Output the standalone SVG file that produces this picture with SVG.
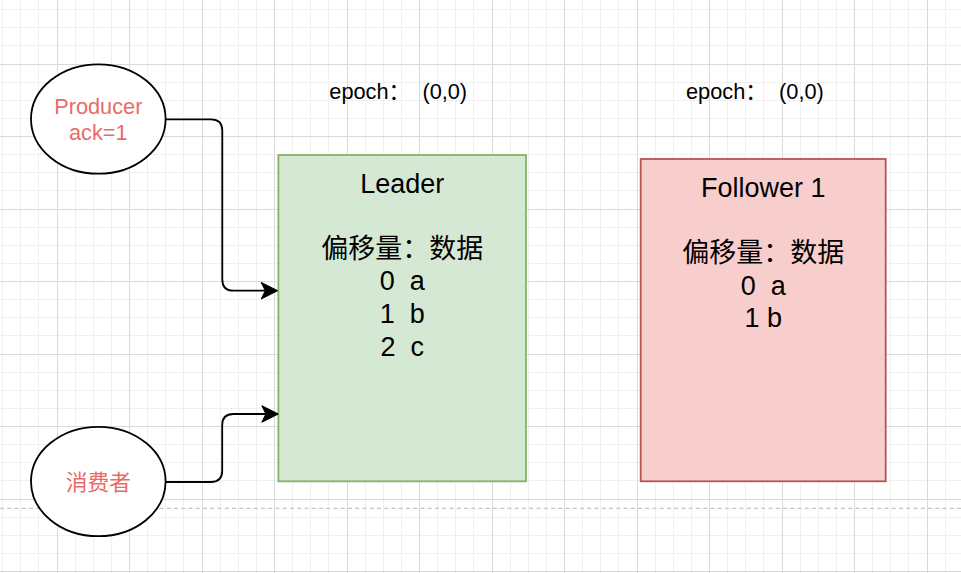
<svg xmlns="http://www.w3.org/2000/svg" width="961" height="573" viewBox="0 0 961 573">
  <style>
    .minor { stroke: #f0f0f0; stroke-width: 1; fill: none; }
    .major { stroke: #dadada; stroke-width: 1; fill: none; }
    .divider { stroke: #c4c4c4; stroke-width: 1.3; stroke-dasharray: 4 3.25; fill: none; }
    .ell { fill: #ffffff; stroke: #000000; stroke-width: 1.8; }
    .edge { fill: none; stroke: #000000; stroke-width: 1.8; }
    .t { font-family: "Liberation Sans", "Noto Sans CJK SC", sans-serif; }
    .red { fill: #ea6b66; font-size: 21.75px; text-anchor: middle; }
    .box { fill: #000000; font-size: 27px; text-anchor: middle; }
    .epoch { fill: #000000; font-size: 21.75px; }
  </style>
  <defs>
    <marker id="arrow" markerUnits="userSpaceOnUse" viewBox="0 0 20 20" markerWidth="20" markerHeight="20" refX="6" refY="10" orient="auto">
      <path d="M18,10 L1.5,1.7 L5.6,10 L1.5,18.3 Z" fill="#000000" stroke="#000000" stroke-width="1"/>
    </marker>
  </defs>
  <rect x="0" y="0" width="961" height="573" fill="#ffffff"/>
  <g id="grid">
    <path class="minor" d="M2.5,0V573M20.5,0V573M38.5,0V573M75.5,0V573M93.5,0V573M111.5,0V573M147.5,0V573M165.5,0V573M183.5,0V573M220.5,0V573M238.5,0V573M256.5,0V573M292.5,0V573M310.5,0V573M328.5,0V573M365.5,0V573M383.5,0V573M401.5,0V573M437.5,0V573M455.5,0V573M473.5,0V573M510.5,0V573M528.5,0V573M546.5,0V573M582.5,0V573M600.5,0V573M618.5,0V573M655.5,0V573M673.5,0V573M691.5,0V573M727.5,0V573M745.5,0V573M763.5,0V573M800.5,0V573M818.5,0V573M836.5,0V573M872.5,0V573M890.5,0V573M908.5,0V573M945.5,0V573M0,9.5H961M0,27.5H961M0,45.5H961M0,82.5H961M0,100.5H961M0,118.5H961M0,154.5H961M0,172.5H961M0,190.5H961M0,227.5H961M0,245.5H961M0,263.5H961M0,299.5H961M0,317.5H961M0,335.5H961M0,372.5H961M0,390.5H961M0,408.5H961M0,444.5H961M0,462.5H961M0,480.5H961M0,517.5H961M0,535.5H961M0,553.5H961"/>
    <path class="major" d="M57.5,0V573M129.5,0V573M202.5,0V573M274.5,0V573M347.5,0V573M419.5,0V573M492.5,0V573M564.5,0V573M637.5,0V573M709.5,0V573M782.5,0V573M854.5,0V573M927.5,0V573M0,64.5H961M0,136.5H961M0,209.5H961M0,281.5H961M0,354.5H961M0,426.5H961M0,499.5H961M0,571.5H961"/>
  </g>
  <g id="divider">
    <line class="divider" x1="0" y1="508.3" x2="961" y2="508.3"/>
  </g>
  <g id="node-producer">
    <ellipse class="ell" cx="98.3" cy="119" rx="67.3" ry="54.7"/>
    <text class="t red"><tspan x="98.3" y="114">Producer</tspan><tspan x="98.3" y="140">ack=1</tspan></text>
  </g>
  <g id="node-consumer">
    <ellipse class="ell" cx="98.3" cy="481.5" rx="67.3" ry="54.7"/>
    <text class="t red" x="98.3" y="489.7">消费者</text>
  </g>
  <g id="node-leader">
    <rect x="278.4" y="155" width="247.6" height="326.3" fill="#d5e8d4" stroke="#82b366" stroke-width="1.8"/>
    <text class="t box" xml:space="preserve"><tspan x="402.2" y="192.5">Leader</tspan><tspan x="402.2" y="257.7">偏移量：数据</tspan><tspan x="402.2" y="290.3">0  a</tspan><tspan x="402.2" y="322.9">1  b</tspan><tspan x="402.2" y="355.5">2  c</tspan></text>
  </g>
  <g id="node-follower1">
    <rect x="640.7" y="159" width="245" height="322.3" fill="#f8cecc" stroke="#b85450" stroke-width="1.8"/>
    <text class="t box" xml:space="preserve"><tspan x="763.2" y="196.8">Follower 1</tspan><tspan x="763.2" y="262">偏移量：数据</tspan><tspan x="763.2" y="294.6">0  a</tspan><tspan x="763.2" y="327.2">1 b</tspan></text>
  </g>
  <g id="label-epoch-leader">
    <text class="t epoch" x="329.3" y="99.2" xml:space="preserve">epoch：  (0,0)</text>
  </g>
  <g id="label-epoch-follower">
    <text class="t epoch" x="686" y="99.2" xml:space="preserve">epoch：  (0,0)</text>
  </g>
  <g id="connectors">
    <path class="edge" marker-end="url(#arrow)" d="M165.6,119.3 H211 Q222.3,119.3 222.3,130.6 V279.4 Q222.3,290.7 233.6,290.7 H265.7"/>
    <path class="edge" marker-end="url(#arrow)" d="M165.6,482 H211 Q222.2,482 222.2,470.8 V425.2 Q222.2,414 233.4,414 H266.3"/>
  </g>
</svg>
